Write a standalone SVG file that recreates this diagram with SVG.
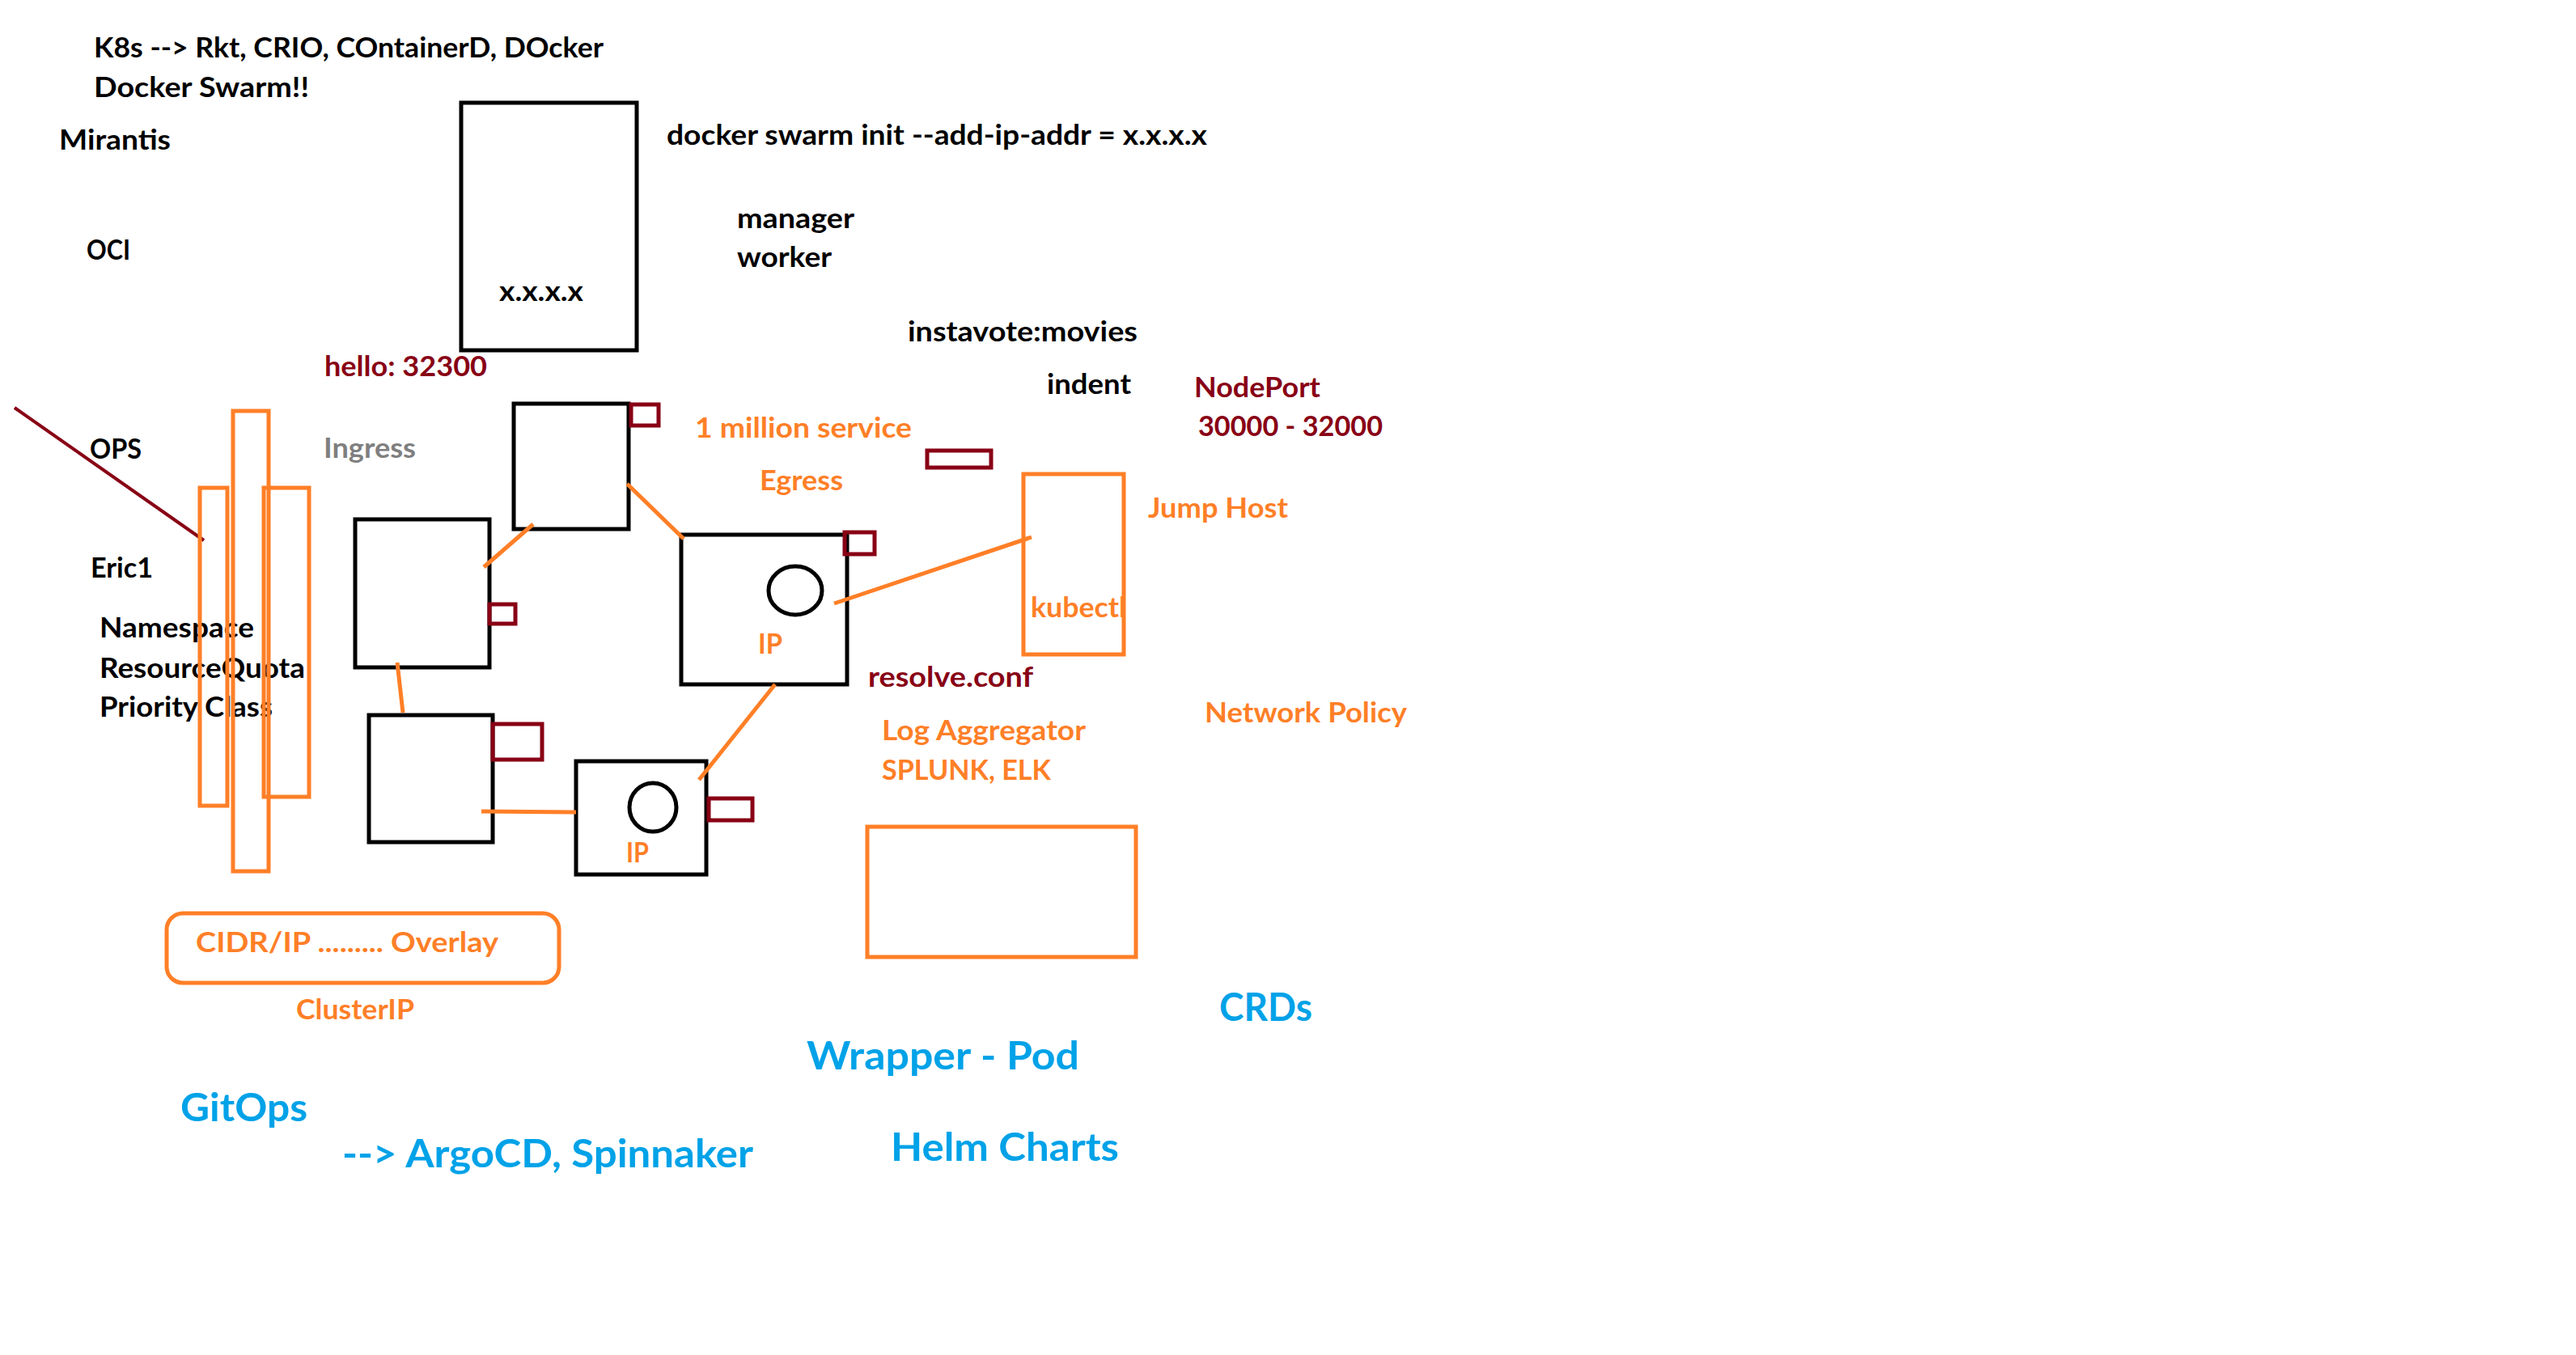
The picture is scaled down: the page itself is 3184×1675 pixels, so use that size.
<svg xmlns="http://www.w3.org/2000/svg" width="3184" height="1675" viewBox="0 0 3184 1675">
<style>
text{font-family:Lato,"Open Sans","Liberation Sans",sans-serif;font-weight:700;font-size:34px}
.k{fill:#000}
.o{fill:#FF7F27}
.r{fill:#880015}
.g{fill:#7F7F7F}
.b{fill:#00A2E8;font-size:47px}
.bx{fill:none;stroke:#000;stroke-width:5}
.rb{fill:none;stroke:#880015;stroke-width:5}
.ob{fill:none;stroke:#FF7F27;stroke-width:5}
.ol{stroke:#FF7F27;stroke-width:5;fill:none}
</style>
<rect width="3184" height="1675" fill="#fff"/>

<g id="notes-top">
<text class="k" x="116" y="71" textLength="630" lengthAdjust="spacingAndGlyphs">K8s --&gt; Rkt, CRIO, COntainerD, DOcker</text>
<text class="k" x="116" y="120" textLength="266" lengthAdjust="spacingAndGlyphs">Docker Swarm!!</text>
<text class="k" x="73" y="185" textLength="138" lengthAdjust="spacingAndGlyphs">Mirantis</text>
<text class="k" x="107" y="321" textLength="54" lengthAdjust="spacingAndGlyphs">OCI</text>
<text class="k" x="824" y="179" textLength="668" lengthAdjust="spacingAndGlyphs">docker swarm init --add-ip-addr = x.x.x.x</text>
<text class="k" x="911" y="282" textLength="145" lengthAdjust="spacingAndGlyphs">manager</text>
<text class="k" x="911" y="330" textLength="117" lengthAdjust="spacingAndGlyphs">worker</text>
<text class="k" x="1122" y="422" textLength="284" lengthAdjust="spacingAndGlyphs">instavote:movies</text>
<text class="k" x="1294" y="487" textLength="104" lengthAdjust="spacingAndGlyphs">indent</text>
<text class="r" x="401" y="465" textLength="201" lengthAdjust="spacingAndGlyphs">hello: 32300</text>
<text class="r" x="1476" y="491" textLength="156" lengthAdjust="spacingAndGlyphs">NodePort</text>
<text class="r" x="1481" y="539" textLength="228" lengthAdjust="spacingAndGlyphs">30000 - 32000</text>
<text class="o" x="859" y="541" textLength="268" lengthAdjust="spacingAndGlyphs">1 million service</text>
<text class="o" x="939" y="606" textLength="103" lengthAdjust="spacingAndGlyphs">Egress</text>
<text class="o" x="1419" y="640" textLength="173" lengthAdjust="spacingAndGlyphs">Jump Host</text>
<text class="r" x="1073" y="849" textLength="204" lengthAdjust="spacingAndGlyphs">resolve.conf</text>
<text class="o" x="1090" y="915" textLength="252" lengthAdjust="spacingAndGlyphs">Log Aggregator</text>
<text class="o" x="1090" y="964" textLength="209" lengthAdjust="spacingAndGlyphs">SPLUNK, ELK</text>
<text class="o" x="1489" y="893" textLength="250" lengthAdjust="spacingAndGlyphs">Network Policy</text>
<text class="k" x="111" y="567" textLength="64" lengthAdjust="spacingAndGlyphs">OPS</text>
<text class="g" x="400" y="566" textLength="114" lengthAdjust="spacingAndGlyphs">Ingress</text>
<text class="k" x="112" y="714" textLength="77" lengthAdjust="spacingAndGlyphs">Eric1</text>
<text class="k" x="123" y="788" textLength="191" lengthAdjust="spacingAndGlyphs">Namespace</text>
<text class="k" x="123" y="838" textLength="254" lengthAdjust="spacingAndGlyphs">ResourceQuota</text>
<text class="k" x="123" y="886" textLength="214" lengthAdjust="spacingAndGlyphs">Priority Class</text>
<text class="o" x="366" y="1260" textLength="146" lengthAdjust="spacingAndGlyphs">ClusterIP</text>
<text class="b" x="1507" y="1262" textLength="115" lengthAdjust="spacingAndGlyphs">CRDs</text>
<text class="b" x="997" y="1322" textLength="337" lengthAdjust="spacingAndGlyphs">Wrapper - Pod</text>
<text class="b" x="223" y="1386" textLength="157" lengthAdjust="spacingAndGlyphs">GitOps</text>
<text class="b" x="423" y="1443" textLength="508" lengthAdjust="spacingAndGlyphs">--&gt; ArgoCD, Spinnaker</text>
<text class="b" x="1101" y="1435" textLength="282" lengthAdjust="spacingAndGlyphs">Helm Charts</text>
</g>

<g id="ops-line">
<line x1="18" y1="504" x2="252" y2="668" stroke="#880015" stroke-width="4"/>
</g>

<g id="namespace-bars">
<rect class="ob" x="247" y="603" width="34" height="393"/>
<rect class="ob" x="288" y="508" width="44" height="569"/>
<rect class="ob" x="326" y="603" width="56" height="382"/>
</g>

<g id="node-swarm">
<rect class="bx" x="570" y="127" width="217" height="306"/>
<text class="k" x="617" y="372" textLength="104" lengthAdjust="spacingAndGlyphs">x.x.x.x</text>
</g>

<g id="node-b">
<rect class="bx" x="635" y="499" width="142" height="155"/>
<rect class="rb" x="780" y="500" width="34" height="26"/>
</g>

<g id="node-c">
<rect class="bx" x="439" y="642" width="166" height="183"/>
<rect class="rb" x="605" y="747" width="32" height="24"/>
</g>

<g id="node-d">
<rect class="bx" x="456" y="884" width="153" height="157"/>
<rect class="rb" x="609" y="895" width="61" height="44"/>
</g>

<g id="node-e">
<rect class="bx" x="712" y="941" width="161" height="140"/>
<ellipse cx="807" cy="998" rx="29" ry="30" fill="none" stroke="#000" stroke-width="5"/>
<rect class="rb" x="876" y="987" width="54" height="27"/>
<text class="o" x="774" y="1066" textLength="28" lengthAdjust="spacingAndGlyphs">IP</text>
</g>

<g id="node-f">
<rect class="bx" x="842" y="661" width="205" height="185"/>
<ellipse cx="983" cy="730" rx="33" ry="30" fill="none" stroke="#000" stroke-width="5"/>
<rect class="rb" x="1044" y="658" width="37" height="27"/>
<text class="o" x="937" y="808" textLength="30" lengthAdjust="spacingAndGlyphs">IP</text>
</g>

<g id="node-port">
<rect class="rb" x="1146" y="557" width="79" height="21"/>
</g>

<g id="node-jump">
<rect class="ob" x="1265" y="586" width="124" height="223"/>
<text class="o" x="1274" y="763" textLength="118" lengthAdjust="spacingAndGlyphs">kubectl</text>
</g>

<g id="node-log">
<rect class="ob" x="1072" y="1022" width="332" height="161"/>
</g>

<g id="node-cidr">
<rect class="ob" x="206" y="1129" width="485" height="86" rx="20"/>
<text class="o" x="242" y="1177" textLength="374" lengthAdjust="spacingAndGlyphs">CIDR/IP ......... Overlay</text>
</g>

<g id="connectors">
<line class="ol" x1="598" y1="701" x2="659" y2="648"/>
<line class="ol" x1="775" y1="598" x2="845" y2="666"/>
<line class="ol" x1="491" y1="819" x2="498" y2="881"/>
<line class="ol" x1="595" y1="1003" x2="712" y2="1004"/>
<line class="ol" x1="958" y1="846" x2="864" y2="964"/>
<line class="ol" x1="1031" y1="746" x2="1275" y2="664"/>
</g>
</svg>
